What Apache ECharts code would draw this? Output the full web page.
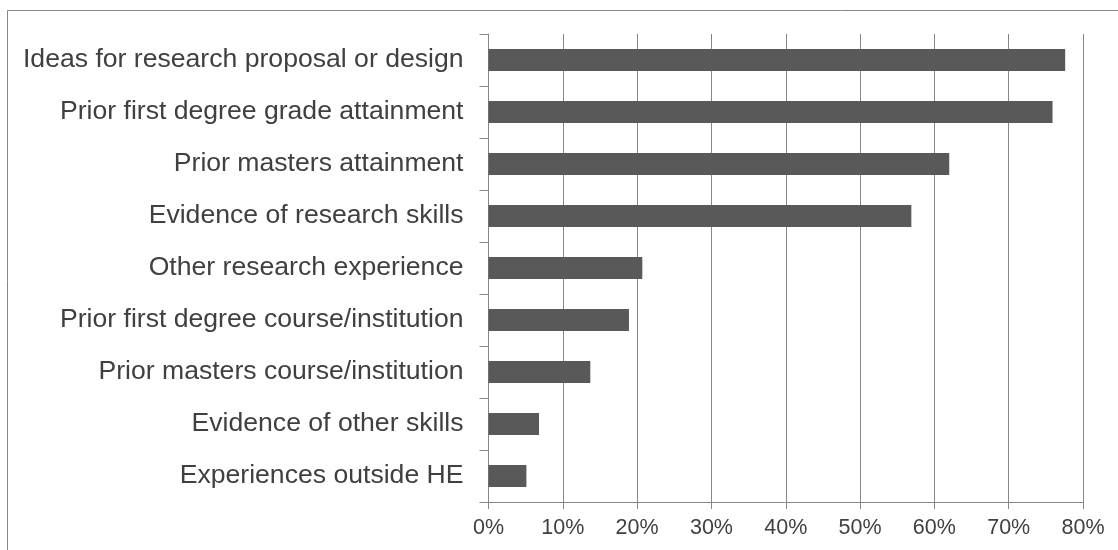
<!DOCTYPE html>
<html>
<head>
<meta charset="utf-8">
<script src="https://cdn.jsdelivr.net/npm/echarts@6/dist/echarts.min.js"></script>
<style>
html,body{margin:0;padding:0;background:#fff;}
#chart{width:1118px;height:550px;}
</style>
</head>
<body>
<div id="chart"></div>
<script>
const categories = [
  'Ideas for research proposal or design',
  'Prior first degree grade attainment',
  'Prior masters attainment',
  'Evidence of research skills',
  'Other research experience',
  'Prior first degree course/institution',
  'Prior masters course/institution',
  'Evidence of other skills',
  'Experiences outside HE'
];
const values = [77.6, 75.9, 62.0, 56.9, 20.7, 18.9, 13.7, 6.8, 5.1];
const tickMin = 0, tickMax = 80, tickStep = 10;

const chart = echarts.init(document.getElementById('chart'), null, {renderer: 'canvas'});
const gray = '#878787';
chart.setOption({
  animation: false,
  backgroundColor: '#ffffff',
  textStyle: {fontFamily: 'Liberation Sans, Arial, sans-serif'},
  grid: {left: 488.5, right: 35, top: 34, bottom: 48, containLabel: false},
  xAxis: {
    type: 'value', min: tickMin, max: tickMax, interval: tickStep,
    axisLine: {show: true, lineStyle: {color: gray, width: 1}},
    axisTick: {show: true, length: 7, lineStyle: {color: gray}},
    splitLine: {show: true, lineStyle: {color: gray, width: 1}},
    axisLabel: {formatter: '{value}%', color: '#404040', fontSize: 21.5, margin: 15,
      fontFamily: 'Liberation Sans, Arial, sans-serif'}
  },
  yAxis: {
    type: 'category', data: categories, inverse: true,
    axisLine: {show: true, lineStyle: {color: gray, width: 1}},
    axisTick: {show: true, length: 9, lineStyle: {color: gray}},
    axisLabel: {color: '#404040', fontSize: 26.6, margin: 25, padding: [4, 0, 0, 0],
      fontFamily: 'Liberation Sans, Arial, sans-serif'}
  },
  series: [{
    type: 'bar', data: values, barWidth: 22,
    itemStyle: {color: '#595959'}
  }],
  graphic: [
    {type: 'line', shape: {x1: 7.5, y1: 10.5, x2: 1118, y2: 10.5}, style: {stroke: gray, lineWidth: 1}},
    {type: 'line', shape: {x1: 7.5, y1: 10.5, x2: 7.5, y2: 550}, style: {stroke: gray, lineWidth: 1}}
  ]
});
</script>
</body>
</html>
